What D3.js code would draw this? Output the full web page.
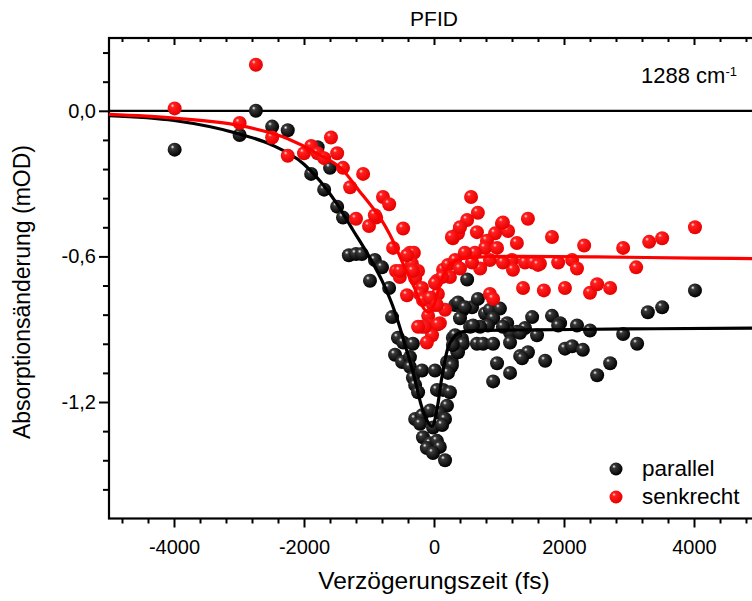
<!DOCTYPE html>
<html>
<head>
<meta charset="utf-8">
<script src="https://cdn.jsdelivr.net/npm/d3@7"></script>
<style>
  body { margin: 0; background: #fff; }
  text { font-family: "Liberation Sans", Arial, sans-serif; fill: #000; }
</style>
</head>
<body>
<svg id="chart" width="752" height="601"></svg>
<script>
//-------------------------------------------------
// Data
//-------------------------------------------------
// parallel: [delay (fs), signal (mOD)]
var parallelPoints = [
  [-3990,-0.16],[-2990,-0.10],[-2740,0.00],[-2490,-0.065],[-2250,-0.08],[-1790,-0.15],
  [-1600,-0.235],[-1890,-0.26],[-1690,-0.325],[-1490,-0.395],[-1400,-0.44],[-1310,-0.595],
  [-1200,-0.59],[-1110,-0.59],[-910,-0.615],[-800,-0.645],[-985,-0.70],[-690,-0.73],
  [-645,-0.85],[-555,-0.935],[-475,-0.955],[-325,-0.96],[-600,-1.005],[-490,-1.035],
  [-370,-1.015],[-370,-1.055],[-325,-1.10],[-290,-1.13],[-245,-1.16],[-185,-1.07],
  [15,-1.07],[275,-1.035],[245,-1.06],[355,-0.99],[370,-0.955],[290,-0.935],[430,-0.94],
  [45,-1.15],[140,-1.15],[245,-1.16],[200,-1.215],[-290,-1.27],[-185,-1.255],[-60,-1.235],
  [90,-1.245],[170,-1.27],[-215,-1.29],[-15,-1.305],[125,-1.295],[-170,-1.345],[-60,-1.37],
  [-110,-1.39],[45,-1.36],[90,-1.385],[-15,-1.41],[170,-1.44],[325,-0.80],[445,-0.82],
  [585,-0.81],[400,-0.855],[555,-0.89],[660,-0.96],[510,-0.695],[370,-0.79],[475,-0.81],
  [675,-0.775],[785,-0.835],[860,-0.82],[1015,-0.815],[910,-0.855],[1125,-0.875],[1510,-0.85],
  [1400,-0.895],[1275,-0.91],[1170,-0.915],[1060,-0.89],[830,-0.885],[710,-0.89],[600,-0.885],
  [325,-0.925],[445,-0.96],[370,-0.995],[290,-0.965],[755,-0.96],[910,-0.96],[1170,-0.955],
  [1325,-1.01],[1445,-0.995],[970,-1.04],[1170,-1.08],[200,-1.035],[275,-1.05],[215,-1.08],
  [1815,-0.845],[1940,-0.875],[2200,-0.885],[1585,-0.925],[1355,-1.02],[1710,-1.03],
  [2015,-0.98],[2125,-0.97],[2290,-0.985],[910,-1.115],[1910,-0.885],[2400,-0.905],
  [2910,-0.92],[3125,-0.96],[3290,-0.83],[3510,-0.81],[4015,-0.74],[2710,-1.04],
  [2510,-1.09],[1325,-0.915]
];

// senkrecht: [delay (fs), signal (mOD)]
var senkrechtPoints = [
  [-3990,0.01],[-2740,0.19],[-2990,-0.05],[-2490,-0.11],[-2250,-0.185],[-2000,-0.175],
  [-1890,-0.145],[-1790,-0.175],[-1690,-0.195],[-1585,-0.11],[-1490,-0.175],[-1400,-0.235],
  [-1290,-0.315],[-1090,-0.26],[-1200,-0.445],[-1000,-0.475],[-890,-0.44],[-785,-0.355],
  [-690,-0.385],[-475,-0.485],[-630,-0.565],[-370,-0.585],[-310,-0.585],[-585,-0.66],
  [-340,-0.63],[-245,-0.66],[-525,-0.685],[-415,-0.595],[-910,-0.43],[-290,-0.69],
  [-185,-0.73],[-415,-0.76],[-215,-0.755],[-170,-0.78],[45,-0.70],[60,-0.755],[140,-0.655],
  [215,-0.635],[245,-0.685],[325,-0.615],[290,-0.525],[370,-0.505],[-15,-0.80],[170,-0.82],
  [-90,-0.845],[90,-0.875],[-60,-0.885],[-185,-0.89],[-30,-0.925],[-110,-0.955],[570,-0.355],
  [675,-0.42],[510,-0.45],[1445,-0.445],[1815,-0.52],[400,-0.48],[275,-0.52],[660,-0.50],
  [1045,-0.465],[1140,-0.495],[1275,-0.545],[940,-0.505],[815,-0.535],[1200,-0.615],
  [1215,-0.655],[1060,-0.625],[860,-0.615],[710,-0.65],[585,-0.625],[400,-0.65],[125,-0.685],
  [15,-0.71],[1400,-0.625],[1525,-0.625],[1630,-0.63],[1910,-0.625],[2125,-0.615],[2200,-0.65],
  [1370,-0.73],[1690,-0.74],[2015,-0.73],[860,-0.755],[910,-0.775],[-60,-0.77],[-525,-0.66],
  [-325,-0.66],[-140,-0.89],[60,-0.88],[45,-0.80],[-245,-0.89],[785,-0.565],[970,-0.565],
  [630,-0.585],[475,-0.585],[1060,-0.46],[2310,-0.555],[2910,-0.565],[3310,-0.54],[3510,-0.525],
  [4015,-0.48],[3110,-0.645],[1600,-0.635],[2400,-0.75],[2510,-0.715],[2710,-0.73]
];

// fit curves
var parallelFit = [
  [-5000,-0.02],[-4000,-0.04],[-3000,-0.095],[-2500,-0.14],[-2000,-0.22],[-1750,-0.29],
  [-1500,-0.38],[-1250,-0.49],[-1000,-0.60],[-800,-0.70],[-600,-0.83],[-450,-0.96],
  [-300,-1.10],[-200,-1.21],[-100,-1.28],[-30,-1.30],[40,-1.24],[120,-1.10],[200,-0.99],
  [300,-0.935],[450,-0.91],[700,-0.905],[1500,-0.903],[3000,-0.899],[5000,-0.895]
];
var senkrechtFit = [
  [-5000,-0.015],[-4000,-0.03],[-3000,-0.06],[-2250,-0.115],[-1800,-0.175],[-1400,-0.245],
  [-1150,-0.33],[-1000,-0.38],[-830,-0.44],[-680,-0.51],[-450,-0.645],[-300,-0.73],
  [-190,-0.80],[-90,-0.83],[0,-0.80],[90,-0.72],[200,-0.65],[340,-0.617],[550,-0.604],
  [1300,-0.60],[2500,-0.602],[4000,-0.607],[5000,-0.609]
];

var xMajorTicks = [-4000, -2000, 0, 2000, 4000];
var xTickLabels = ["-4000", "-2000", "0", "2000", "4000"];
var yMajorTicks = [0, -0.6, -1.2];
var yTickLabels = ["0,0", "-0,6", "-1,2"];
var seriesNames = ["parallel", "senkrecht"];
var seriesColors = ["#000000", "#ff0000"];
//-------------------------------------------------

var svg = d3.select("#chart");

var plotLeft = 109, plotRight = 759, plotTop = 38, plotBottom = 518.5;

var x = d3.scaleLinear().domain([-5000, 5000]).range([plotLeft, plotRight]);
var y = d3.scaleLinear().domain([-1.68, 0.3]).range([plotBottom, plotTop]);

// shiny sphere gradients for the markers
var defs = svg.append("defs");
function sphere(id, light, mid, dark) {
  var g = defs.append("radialGradient")
    .attr("id", id)
    .attr("cx", "40%").attr("cy", "38%").attr("r", "62%")
    .attr("fx", "34%").attr("fy", "30%");
  g.append("stop").attr("offset", "0%").attr("stop-color", light);
  g.append("stop").attr("offset", "22%").attr("stop-color", mid);
  g.append("stop").attr("offset", "100%").attr("stop-color", dark);
}
sphere("ballBlack", "#ffffff", "#3a3a3a", "#000000");
sphere("ballRed", "#ffe0e0", "#ff2020", "#e80000");

// minor ticks every 400 fs / 0.12 mOD
var xMinor = d3.range(-4800, 5000, 400).filter(function (v) { return v % 2000 !== 0; });
var yMinor = d3.range(0.24, -1.6, -0.12).filter(function (v) {
  var r = Math.abs(v % 0.6);
  return r > 0.01 && r < 0.59;
});

// bottom axis (outward ticks)
svg.append("g")
  .attr("transform", "translate(0," + plotBottom + ")")
  .call(d3.axisBottom(x).tickValues(xMajorTicks).tickSize(9).tickPadding(12)
    .tickFormat(function (d, i) { return xTickLabels[i]; }));
svg.append("g")
  .attr("transform", "translate(0," + plotBottom + ")")
  .call(d3.axisBottom(x).tickValues(xMinor).tickSize(5).tickFormat(""));

// top axis (inward ticks)
svg.append("g")
  .attr("transform", "translate(0," + plotTop + ")")
  .call(d3.axisBottom(x).tickValues(xMajorTicks).tickSize(7).tickFormat(""));
svg.append("g")
  .attr("transform", "translate(0," + plotTop + ")")
  .call(d3.axisBottom(x).tickValues(xMinor).tickSize(4).tickFormat(""));

// left axis (outward ticks)
svg.append("g")
  .attr("transform", "translate(" + plotLeft + ",0)")
  .call(d3.axisLeft(y).tickValues(yMajorTicks).tickSize(10).tickPadding(3)
    .tickFormat(function (d, i) { return yTickLabels[i]; }));
svg.append("g")
  .attr("transform", "translate(" + plotLeft + ",0)")
  .call(d3.axisLeft(y).tickValues(yMinor).tickSize(6).tickFormat(""));

svg.selectAll(".domain").remove();
svg.selectAll(".tick line").attr("stroke", "#000").attr("stroke-width", 2);
svg.selectAll(".tick text")
  .style("font-family", '"Liberation Sans", Arial, sans-serif')
  .style("font-size", "20px")
  .attr("fill", "#000");

// frame
svg.append("rect")
  .attr("x", plotLeft).attr("y", plotTop)
  .attr("width", plotRight - plotLeft).attr("height", plotBottom - plotTop)
  .attr("fill", "none").attr("stroke", "#000").attr("stroke-width", 2.2);

// zero line
svg.append("line")
  .attr("x1", plotLeft).attr("x2", plotRight)
  .attr("y1", y(0)).attr("y2", y(0))
  .attr("stroke", "#000").attr("stroke-width", 2.2);

var line = d3.line()
  .x(function (d) { return x(d[0]); })
  .y(function (d) { return y(d[1]); })
  .curve(d3.curveMonotoneX);

function drawSeries(points, fit, color, ball) {
  svg.append("g").selectAll("circle")
    .data(points)
    .enter()
    .append("circle")
    .attr("cx", function (d) { return x(d[0]); })
    .attr("cy", function (d) { return y(d[1]); })
    .attr("r", 7)
    .attr("fill", "url(#" + ball + ")");

  svg.append("path")
    .datum(fit)
    .attr("d", line)
    .attr("fill", "none")
    .attr("stroke", color)
    .attr("stroke-width", 3.2);
}
drawSeries(parallelPoints, parallelFit, seriesColors[0], "ballBlack");
drawSeries(senkrechtPoints, senkrechtFit, seriesColors[1], "ballRed");

// title and labels
svg.append("text")
  .attr("x", (plotLeft + plotRight) / 2).attr("y", 26)
  .attr("text-anchor", "middle")
  .style("font-size", "21px")
  .text("PFID");

var note = svg.append("text")
  .attr("x", 641).attr("y", 83)
  .style("font-size", "22px")
  .text("1288 cm");
note.append("tspan")
  .attr("dy", -7)
  .style("font-size", "13px")
  .text("-1");

svg.append("text")
  .attr("x", (plotLeft + plotRight) / 2).attr("y", 589)
  .attr("text-anchor", "middle")
  .style("font-size", "24.5px")
  .text("Verzögerungszeit (fs)");

svg.append("text")
  .attr("transform", "translate(30,292) rotate(-90)")
  .attr("text-anchor", "middle")
  .style("font-size", "23px")
  .text("Absorptionsänderung (mOD)");

// legend
var legend = svg.append("g").attr("class", "legend");
var balls = ["ballBlack", "ballRed"];
seriesNames.forEach(function (name, i) {
  legend.append("circle")
    .attr("cx", 616).attr("cy", 469 + i * 28)
    .attr("r", 6.5)
    .attr("fill", "url(#" + balls[i] + ")");
  legend.append("text")
    .attr("x", 642).attr("y", 476 + i * 28)
    .style("font-size", "22.5px")
    .text(name);
});
</script>
</body>
</html>
